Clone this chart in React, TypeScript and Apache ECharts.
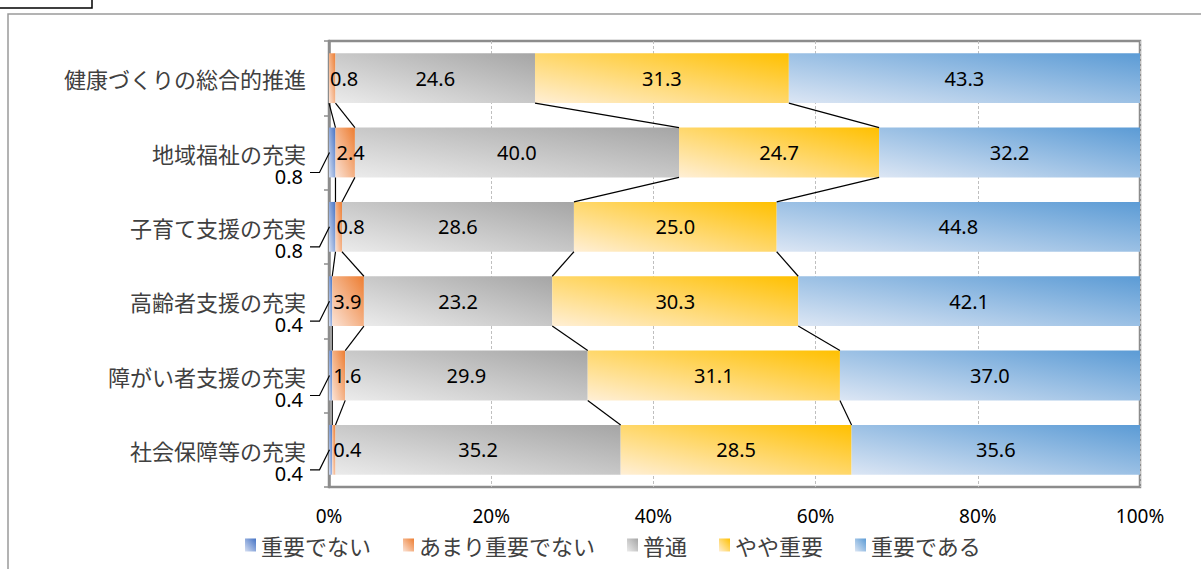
import React, { useEffect, useRef } from "react";
import * as echarts from "echarts";

const categories = [
  "健康づくりの総合的推進",
  "地域福祉の充実",
  "子育て支援の充実",
  "高齢者支援の充実",
  "障がい者支援の充実",
  "社会保障等の充実",
];
const seriesNames = ["重要でない", "あまり重要でない", "普通", "やや重要", "重要である"];
const notImportant = [0, 0.8, 0.8, 0.4, 0.4, 0.4];
const notVeryImportant = [0.8, 2.4, 0.8, 3.9, 1.6, 0.4];
const neutral = [24.6, 40.0, 28.6, 23.2, 29.9, 35.2];
const somewhatImportant = [31.3, 24.7, 25.0, 30.3, 31.1, 28.5];
const important = [43.3, 32.2, 44.8, 42.1, 37.0, 35.6];
const xMin = 0;
const xMax = 100;
const xInterval = 20;

const darkColors = ["#4472C4", "#ED7D31", "#A5A5A5", "#FFC000", "#5B9BD5"];
const lightColors = ["#D6DFF2", "#FBE3D6", "#EBEBEB", "#FFEFD6", "#DCE6F4"];

const NUM_FONT = '"Noto Sans", "DejaVu Sans", sans-serif';
const JP_FONT = '"Noto Sans CJK JP", "Noto Sans", sans-serif';

export default function App() {
  const ref = useRef<HTMLDivElement>(null);

  useEffect(() => {
    if (!ref.current) return;
    const chart = echarts.init(ref.current, undefined, { renderer: "svg" });

    const raw = [notImportant, notVeryImportant, neutral, somewhatImportant, important];
    const totals = categories.map((_, i) => raw.reduce((s, arr) => s + arr[i], 0));
    const pct = raw.map((arr) => arr.map((v, i) => (v / totals[i]) * 100));
    const cum = categories.map((_, i) => {
      const out: number[] = [];
      let s = 0;
      for (let k = 0; k < pct.length; k++) {
        s += pct[k][i];
        out.push(s);
      }
      return out;
    });

    const barRatio = 0.67;

    const grad = (k: number) =>
      new echarts.graphic.LinearGradient(0, 1, 1, 0, [
        { offset: 0, color: lightColors[k] },
        { offset: 1, color: darkColors[k] },
      ]);

    const barSeries = seriesNames.map((name, k) => ({
      name,
      type: "bar",
      stack: "total",
      barWidth: "67%",
      itemStyle: { color: grad(k) },
      label: {
        show: k !== 0,
        position: k === 1 ? "insideLeft" : "inside",
        distance: 1,
        fontFamily: NUM_FONT,
        fontSize: 20,
        color: "#000",
        formatter: (p: any) => raw[k][p.dataIndex].toFixed(1),
      },
      emphasis: { disabled: true },
      data: pct[k],
      z: 2,
    }));

    const seriesLines = {
      type: "custom",
      coordinateSystem: "cartesian2d",
      silent: true,
      clip: false,
      z: 4,
      encode: { x: 0, y: 1 },
      data: categories.slice(0, -1).map((_, i) => [0, i]),
      renderItem: (params: any, api: any) => {
        const i = api.value(1);
        const band = api.size([0, 1])[1];
        const half = (band * barRatio) / 2;
        const children = [0, 1, 2, 3].map((k) => {
          const a = api.coord([cum[i][k], i]);
          const b = api.coord([cum[i + 1][k], i + 1]);
          return {
            type: "line",
            shape: { x1: a[0], y1: a[1] + half, x2: b[0], y2: b[1] - half },
            style: { stroke: "#000", lineWidth: 1.2 },
          };
        });
        return { type: "group", children };
      },
    };

    const leaderLabels = {
      type: "custom",
      coordinateSystem: "cartesian2d",
      silent: true,
      clip: false,
      z: 5,
      encode: { x: 0, y: 1 },
      data: categories
        .map((_, i) => [0, i, notImportant[i]])
        .filter((d) => d[2] > 0),
      renderItem: (params: any, api: any) => {
        const i = api.value(1);
        const v = api.value(2);
        const p = api.coord([0, i]);
        return {
          type: "group",
          children: [
            {
              type: "polyline",
              shape: {
                points: [
                  [p[0] - 19, p[1] + 20],
                  [p[0] - 9.5, p[1] + 20],
                  [p[0] + 0.5, p[1]],
                ],
              },
              style: { stroke: "#000", fill: null, lineWidth: 1.2 },
            },
            {
              type: "text",
              style: {
                text: Number(v).toFixed(1),
                x: p[0] - 26,
                y: p[1] + 23.5,
                align: "right",
                verticalAlign: "middle",
                fontFamily: NUM_FONT,
                fontSize: 20,
                lineHeight: 20,
                fill: "#000",
              },
            },
          ],
        };
      },
    };

    chart.setOption({
      animation: false,
      backgroundColor: "#fff",
      grid: {
        left: 329,
        right: 61,
        top: 41,
        bottom: 82,
        show: true,
        borderColor: "#8c8c8c",
        borderWidth: 2.5,
        containLabel: false,
      },
      legend: {
        data: seriesNames,
        left: 240,
        top: 529,
        itemWidth: 11,
        itemHeight: 13,
        itemGap: 32,
        icon: "rect",
        selectedMode: false,
        textStyle: { fontFamily: JP_FONT, fontSize: 22, color: "#404040" },
      },
      xAxis: {
        type: "value",
        min: xMin,
        max: xMax,
        interval: xInterval,
        axisLine: { show: false },
        axisTick: { show: false },
        axisLabel: {
          formatter: "{value}%",
          fontFamily: NUM_FONT,
          fontSize: 19,
          color: "#000",
          margin: 19,
        },
        splitLine: { show: true, lineStyle: { color: "#bfbfbf", type: [3, 2], width: 1 } },
      },
      yAxis: {
        type: "category",
        inverse: true,
        data: categories,
        axisLine: { show: true, lineStyle: { color: "#8c8c8c", width: 2.5 } },
        axisTick: { show: true, length: 5, lineStyle: { color: "#8c8c8c", width: 1.5 } },
        axisLabel: {
          fontFamily: JP_FONT,
          fontSize: 22,
          lineHeight: 22,
          color: "#404040",
          margin: 23,
        },
        splitLine: { show: false },
      },
      graphic: [
        {
          type: "rect",
          shape: { x: 8, y: 14, width: 1400, height: 800 },
          style: { fill: null, stroke: "#9a9a9a", lineWidth: 1.5 },
          silent: true,
          z: -1,
        },
        {
          type: "rect",
          shape: { x: -5, y: -30, width: 97, height: 38 },
          style: { fill: "#fff", stroke: "#000", lineWidth: 1.5 },
          silent: true,
        },
      ],
      series: [...barSeries, seriesLines, leaderLabels],
    });

    return () => chart.dispose();
  }, []);

  return (
    <div
      ref={ref}
      style={{ position: "absolute", left: 0, top: 0, width: 1201, height: 569 }}
    />
  );
}
